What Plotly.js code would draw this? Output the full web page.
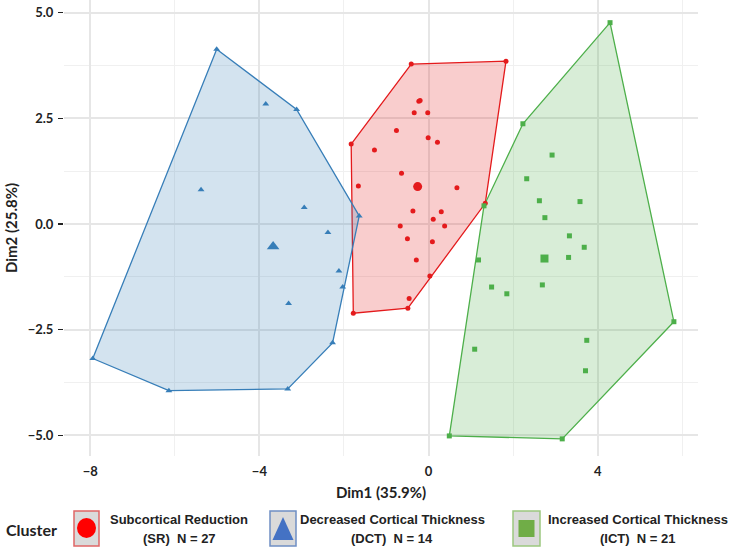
<!DOCTYPE html>
<html>
<head>
<meta charset="utf-8">
<script src="https://cdn.plot.ly/plotly-3.0.1.min.js"></script>
<style>
  html, body { margin: 0; padding: 0; background: #ffffff; }
  #chart { width: 733px; height: 553px; }
</style>
</head>
<body>
<div id="chart"></div>
<script>
// Cluster scores on the first two dimensions
const clusterNames = ['Subcortical Reduction', 'Decreased Cortical Thickness', 'Increased Cortical Thickness'];
const clusterAbbr = ['SR', 'DCT', 'ICT'];
const clusterN = [27, 14, 21];

const srX = [-0.41, 1.83, -1.83, -0.23, -0.20, -0.34, -0.02, -0.76, -0.01, 0.21, -1.28, -0.64, -1.66, 0.67,
             1.34, -0.37, 0.30, 0.11, -0.67, 0.38, -0.50, 0.09, -0.29, 0.03, -0.46, -0.49, -1.78];
const srY = [3.78, 3.85, 1.89, 2.90, 2.92, 2.63, 2.63, 2.21, 2.04, 1.93, 1.75, 1.20, 0.90, 0.86,
             0.49, 0.31, 0.29, 0.11, -0.05, -0.05, -0.35, -0.42, -0.85, -1.23, -1.76, -1.99, -2.11];

const dctX = [-5.01, -3.85, -3.12, -5.38, -2.94, -1.64, -2.38, -2.12, -2.03, -3.31, -2.27, -3.33, -6.14, -7.94];
const dctY = [4.13, 2.84, 2.71, 0.81, 0.39, 0.19, -0.20, -1.11, -1.49, -1.88, -2.81, -3.90, -3.94, -3.18];

const ictX = [4.29, 2.23, 2.92, 2.32, 2.62, 3.58, 2.75, 1.31, 3.33, 3.68, 1.18, 3.31, 1.49, 1.85, 2.69,
              5.80, 3.74, 1.09, 3.71, 0.49, 3.16];
const ictY = [4.76, 2.37, 1.63, 1.07, 0.55, 0.53, 0.15, 0.43, -0.28, -0.55, -0.85, -0.79, -1.49, -1.65, -1.44,
              -2.31, -2.75, -2.96, -3.47, -5.01, -5.08];

const xTickVals = [-8, -4, 0, 4];
const yTickVals = [-5, -2.5, 0, 2.5, 5];

// Convex hull (monotone chain), closed ring
function hull(xs, ys) {
  const pts = xs.map((x, i) => [x, ys[i]]).sort((a, b) => a[0] - b[0] || a[1] - b[1]);
  const cross = (o, a, b) => (a[0] - o[0]) * (b[1] - o[1]) - (a[1] - o[1]) * (b[0] - o[0]);
  const lower = [], upper = [];
  for (const p of pts) {
    while (lower.length >= 2 && cross(lower[lower.length - 2], lower[lower.length - 1], p) <= 0) lower.pop();
    lower.push(p);
  }
  for (let i = pts.length - 1; i >= 0; i--) {
    const p = pts[i];
    while (upper.length >= 2 && cross(upper[upper.length - 2], upper[upper.length - 1], p) <= 0) upper.pop();
    upper.push(p);
  }
  upper.pop(); lower.pop();
  const ring = lower.concat(upper);
  ring.push(ring[0]);
  return { x: ring.map(p => p[0]), y: ring.map(p => p[1]) };
}
const mean = a => a.reduce((s, v) => s + v, 0) / a.length;

const groups = [
  { x: srX, y: srY, line: '#E41A1C', fill: 'rgba(228,26,28,0.22)', symbol: 'circle', size: 5, csize: 9 },
  { x: dctX, y: dctY, line: '#377EB8', fill: 'rgba(55,126,184,0.22)', symbol: 'triangle-up', size: 6, csize: 11 },
  { x: ictX, y: ictY, line: '#4DAF4A', fill: 'rgba(77,175,74,0.22)', symbol: 'square', size: 5, csize: 8 }
];

const traces = [];
groups.forEach((g, i) => {
  const h = hull(g.x, g.y);
  traces.push({
    x: h.x, y: h.y, type: 'scatter', mode: 'lines', fill: 'toself',
    fillcolor: g.fill, line: { color: g.line, width: 1.3 }, hoverinfo: 'skip',
    showlegend: false, name: clusterAbbr[i] + ' hull'
  });
});
groups.forEach((g, i) => {
  traces.push({
    x: g.x, y: g.y, type: 'scatter', mode: 'markers',
    marker: { color: g.line, symbol: g.symbol, size: g.size, line: { width: 0 } },
    showlegend: false, name: clusterNames[i]
  });
});
groups.forEach((g, i) => {
  traces.push({
    x: [mean(g.x)], y: [mean(g.y)], type: 'scatter', mode: 'markers',
    marker: { color: g.line, symbol: g.symbol, size: g.csize, line: { width: 0 } },
    showlegend: false, name: clusterAbbr[i] + ' centre'
  });
});

// Page-pixel helpers for the cluster key below the plot
const M = { l: 64, r: 35, t: 0, b: 97 };
const W = 733, H = 553;
const PW = W - M.l - M.r, PH = H - M.t - M.b;
const px = v => (v - M.l) / PW;
const py = v => (H - M.b - v) / PH;

const keyFont = { family: 'Liberation Sans, Arial, sans-serif', size: 13, color: '#222', weight: 'bold' };
const boxes = [
  { x0: 74, x1: 99, border: '#E06666' },
  { x0: 270, x1: 296, border: '#6F8FC4' },
  { x0: 513, x1: 540, border: '#9CC87F' }
];
const keyColors = ['#FF0000', '#4472C4', '#70AD47'];
const textCx = [179, 392, 638];

const shapes = [];
const annotations = [];
boxes.forEach(b => {
  shapes.push({ type: 'rect', xref: 'paper', yref: 'paper', x0: px(b.x0), x1: px(b.x1), y0: py(546), y1: py(511),
    fillcolor: '#DADADA', line: { color: b.border, width: 1.5 }, layer: 'above' });
});
// key symbols
shapes.push({ type: 'circle', xref: 'paper', yref: 'paper', x0: px(77), x1: px(96), y0: py(538), y1: py(518),
  fillcolor: keyColors[0], line: { width: 0 } });
shapes.push({ type: 'path', xref: 'paper', yref: 'paper',
  path: `M ${px(272.5)} ${py(540)} L ${px(293.5)} ${py(540)} L ${px(283)} ${py(517)} Z`,
  fillcolor: keyColors[1], line: { width: 0 } });
shapes.push({ type: 'rect', xref: 'paper', yref: 'paper', x0: px(518.5), x1: px(534.5), y0: py(537), y1: py(520),
  fillcolor: keyColors[2], line: { width: 0 } });

annotations.push({ text: 'Cluster', xref: 'paper', yref: 'paper', x: px(31), y: py(529), xanchor: 'center', yanchor: 'middle',
  showarrow: false, font: { family: 'Lato, sans-serif', size: 16, color: '#222', weight: 'bold' } });
clusterNames.forEach((n, i) => {
  annotations.push({ text: n, xref: 'paper', yref: 'paper', x: px(textCx[i]), y: py(519), xanchor: 'center', yanchor: 'middle',
    showarrow: false, font: keyFont });
  annotations.push({ text: '(' + clusterAbbr[i] + ')  N = ' + clusterN[i], xref: 'paper', yref: 'paper', x: px(textCx[i]), y: py(538),
    xanchor: 'center', yanchor: 'middle', showarrow: false, font: keyFont });
});

const tickFont = { family: 'Lato, sans-serif', size: 13, color: '#222', weight: 'bold' };
const titleFont = { family: 'Lato, sans-serif', size: 15, color: '#222', weight: 'bold' };

const layout = {
  width: W, height: H,
  margin: M,
  paper_bgcolor: '#ffffff', plot_bgcolor: '#ffffff',
  showlegend: false,
  xaxis: {
    range: [-8.62, 6.37], tickvals: xTickVals, ticks: '', showline: false, zeroline: false,
    showgrid: true, gridcolor: '#E6E6E6', gridwidth: 2,
    minor: { dtick: 2, tick0: 0, showgrid: true, gridcolor: '#F0F0F0', gridwidth: 1 },
    tickfont: tickFont, ticklabelstandoff: 6,
    title: { text: 'Dim1 (35.9%)', font: titleFont, standoff: 9 }
  },
  yaxis: {
    range: [-5.485, 5.296], tickvals: yTickVals, tickformat: '.1f',
    ticks: 'outside', ticklen: 5, tickwidth: 1.5, tickcolor: '#222',
    showline: false, zeroline: false,
    showgrid: true, gridcolor: '#E6E6E6', gridwidth: 2,
    minor: { dtick: 1.25, tick0: 0, showgrid: true, gridcolor: '#F0F0F0', gridwidth: 1 },
    tickfont: tickFont, ticklabelstandoff: 2,
    title: { text: 'Dim2 (25.8%)', font: titleFont, standoff: 6 }
  },
  shapes: shapes,
  annotations: annotations
};

Plotly.newPlot('chart', traces, layout, { displayModeBar: false, staticPlot: true });
</script>
</body>
</html>
